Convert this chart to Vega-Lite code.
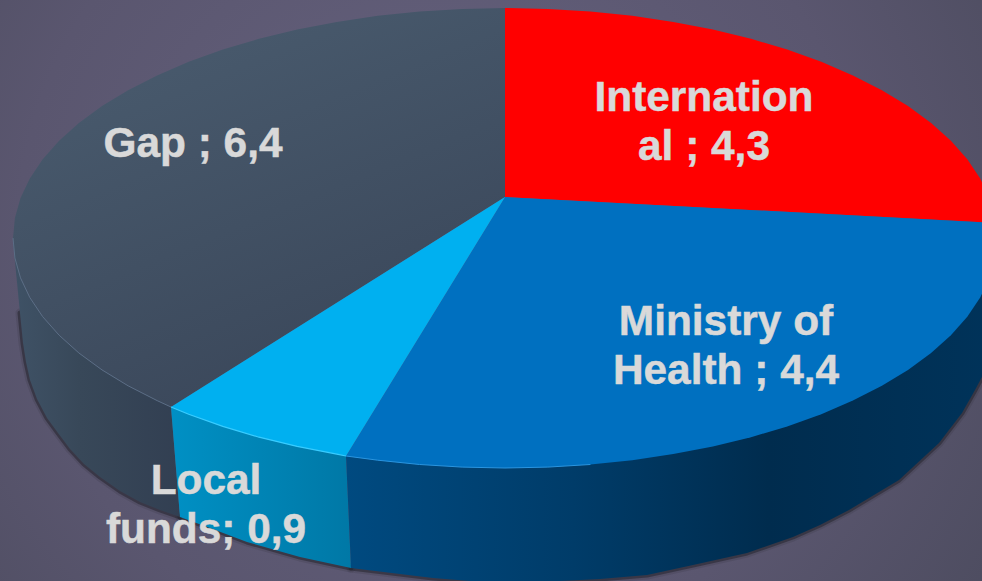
{"$schema":"https://vega.github.io/schema/vega-lite/v6.json","width":982,"height":581,"padding":0,"autosize":"none","config":{"view":{"stroke":null},"axis":{"grid":false}},
"datasets":{
"bg":[{"x0":0,"x1":982,"y0":0,"y1":581}],
"top":[
{"s":"International","i":0,"x":505,"y":197},{"s":"International","i":1,"x":505,"y":8},{"s":"International","i":2,"x":547.9,"y":8.9},{"s":"International","i":3,"x":590.4,"y":11.5},{"s":"International","i":4,"x":632.3,"y":15.8},{"s":"International","i":5,"x":673.3,"y":21.9},{"s":"International","i":6,"x":712.9,"y":29.6},{"s":"International","i":7,"x":751,"y":38.8},{"s":"International","i":8,"x":787.2,"y":49.6},{"s":"International","i":9,"x":821.3,"y":61.8},{"s":"International","i":10,"x":852.9,"y":75.4},{"s":"International","i":11,"x":881.9,"y":90.2},{"s":"International","i":12,"x":908,"y":106.1},{"s":"International","i":13,"x":931.1,"y":123},{"s":"International","i":14,"x":950.9,"y":140.8},{"s":"International","i":15,"x":967.3,"y":159.3},{"s":"International","i":16,"x":980.2,"y":178.5},{"s":"International","i":17,"x":989.5,"y":198.1},{"s":"International","i":18,"x":995.1,"y":218},{"s":"International","i":19,"x":996,"y":223},
{"s":"Ministry of Health","i":0,"x":505,"y":197},{"s":"Ministry of Health","i":1,"x":996,"y":223},{"s":"Ministry of Health","i":2,"x":997,"y":238},{"s":"Ministry of Health","i":3,"x":995.1,"y":258},{"s":"Ministry of Health","i":4,"x":989.5,"y":277.9},{"s":"Ministry of Health","i":5,"x":980.2,"y":297.5},{"s":"Ministry of Health","i":6,"x":967.3,"y":316.7},{"s":"Ministry of Health","i":7,"x":950.9,"y":335.2},{"s":"Ministry of Health","i":8,"x":931.1,"y":353},{"s":"Ministry of Health","i":9,"x":908,"y":369.9},{"s":"Ministry of Health","i":10,"x":881.9,"y":385.8},{"s":"Ministry of Health","i":11,"x":852.9,"y":400.6},{"s":"Ministry of Health","i":12,"x":821.3,"y":414.2},{"s":"Ministry of Health","i":13,"x":787.2,"y":426.4},{"s":"Ministry of Health","i":14,"x":751,"y":437.2},{"s":"Ministry of Health","i":15,"x":712.9,"y":446.4},{"s":"Ministry of Health","i":16,"x":673.3,"y":454.1},{"s":"Ministry of Health","i":17,"x":632.3,"y":460.2},{"s":"Ministry of Health","i":18,"x":590.4,"y":464.5},{"s":"Ministry of Health","i":19,"x":547.9,"y":467.1},{"s":"Ministry of Health","i":20,"x":505,"y":468},{"s":"Ministry of Health","i":21,"x":462.1,"y":467.1},{"s":"Ministry of Health","i":22,"x":419.6,"y":464.5},{"s":"Ministry of Health","i":23,"x":377.7,"y":460.2},{"s":"Ministry of Health","i":24,"x":346,"y":456},
{"s":"Local funds","i":0,"x":505,"y":197},{"s":"Local funds","i":1,"x":346,"y":456},{"s":"Local funds","i":2,"x":336.7,"y":454.1},{"s":"Local funds","i":3,"x":297.1,"y":446.4},{"s":"Local funds","i":4,"x":259,"y":437.2},{"s":"Local funds","i":5,"x":222.8,"y":426.4},{"s":"Local funds","i":6,"x":188.7,"y":414.2},{"s":"Local funds","i":7,"x":171,"y":407},
{"s":"Gap","i":0,"x":505,"y":197},{"s":"Gap","i":1,"x":171,"y":407},{"s":"Gap","i":2,"x":157.1,"y":400.6},{"s":"Gap","i":3,"x":128.1,"y":385.8},{"s":"Gap","i":4,"x":102,"y":369.9},{"s":"Gap","i":5,"x":78.9,"y":353},{"s":"Gap","i":6,"x":59.1,"y":335.2},{"s":"Gap","i":7,"x":42.7,"y":316.7},{"s":"Gap","i":8,"x":29.8,"y":297.5},{"s":"Gap","i":9,"x":20.5,"y":277.9},{"s":"Gap","i":10,"x":14.9,"y":258},{"s":"Gap","i":11,"x":13,"y":238},{"s":"Gap","i":12,"x":14.9,"y":218},{"s":"Gap","i":13,"x":20.5,"y":198.1},{"s":"Gap","i":14,"x":29.8,"y":178.5},{"s":"Gap","i":15,"x":42.7,"y":159.3},{"s":"Gap","i":16,"x":59.1,"y":140.8},{"s":"Gap","i":17,"x":78.9,"y":123},{"s":"Gap","i":18,"x":102,"y":106.1},{"s":"Gap","i":19,"x":128.1,"y":90.2},{"s":"Gap","i":20,"x":157.1,"y":75.4},{"s":"Gap","i":21,"x":188.7,"y":61.8},{"s":"Gap","i":22,"x":222.8,"y":49.6},{"s":"Gap","i":23,"x":259,"y":38.8},{"s":"Gap","i":24,"x":297.1,"y":29.6},{"s":"Gap","i":25,"x":336.7,"y":21.9},{"s":"Gap","i":26,"x":377.7,"y":15.8},{"s":"Gap","i":27,"x":419.6,"y":11.5},{"s":"Gap","i":28,"x":462.1,"y":8.9},{"s":"Gap","i":29,"x":505,"y":8}
],
"wall":[
{"s":"Ministry of Health","i":0,"x":346,"y":456},{"s":"Ministry of Health","i":1,"x":996,"y":240},{"s":"Ministry of Health","i":2,"x":992,"y":310},{"s":"Ministry of Health","i":3,"x":982,"y":377},{"s":"Ministry of Health","i":4,"x":975,"y":390},{"s":"Ministry of Health","i":5,"x":962,"y":413},{"s":"Ministry of Health","i":6,"x":939,"y":443},{"s":"Ministry of Health","i":7,"x":899,"y":480},{"s":"Ministry of Health","i":8,"x":849,"y":510},{"s":"Ministry of Health","i":9,"x":820,"y":525},{"s":"Ministry of Health","i":10,"x":793,"y":537},{"s":"Ministry of Health","i":11,"x":747,"y":553},{"s":"Ministry of Health","i":12,"x":693,"y":565},{"s":"Ministry of Health","i":13,"x":647,"y":575},{"s":"Ministry of Health","i":14,"x":600,"y":579},{"s":"Ministry of Health","i":15,"x":560,"y":581},{"s":"Ministry of Health","i":16,"x":510,"y":582},{"s":"Ministry of Health","i":17,"x":470,"y":581},{"s":"Ministry of Health","i":18,"x":433,"y":578},{"s":"Ministry of Health","i":19,"x":400,"y":574},{"s":"Ministry of Health","i":20,"x":351,"y":568},
{"s":"Local funds","i":0,"x":171,"y":407},{"s":"Local funds","i":1,"x":346,"y":456},{"s":"Local funds","i":2,"x":351,"y":568},{"s":"Local funds","i":3,"x":300,"y":557},{"s":"Local funds","i":4,"x":247,"y":542},{"s":"Local funds","i":5,"x":210,"y":528},{"s":"Local funds","i":6,"x":180,"y":517},
{"s":"Gap","i":0,"x":171,"y":407},{"s":"Gap","i":1,"x":13,"y":240},{"s":"Gap","i":2,"x":15,"y":262},{"s":"Gap","i":3,"x":20,"y":313},{"s":"Gap","i":4,"x":23,"y":343},{"s":"Gap","i":5,"x":26,"y":362},{"s":"Gap","i":6,"x":30,"y":380},{"s":"Gap","i":7,"x":37,"y":399},{"s":"Gap","i":8,"x":47,"y":418},{"s":"Gap","i":9,"x":58,"y":433},{"s":"Gap","i":10,"x":70,"y":449},{"s":"Gap","i":11,"x":84,"y":464},{"s":"Gap","i":12,"x":100,"y":477},{"s":"Gap","i":13,"x":120,"y":491},{"s":"Gap","i":14,"x":140,"y":502},{"s":"Gap","i":15,"x":160,"y":510},{"s":"Gap","i":16,"x":180,"y":517}
],
"labels":[
{"s":"International","value":4.3,"label":"Internation\nal ; 4,3","x":704,"y":111},
{"s":"Ministry of Health","value":4.4,"label":"Ministry of\nHealth ; 4,4","x":726,"y":335},
{"s":"Local funds","value":0.9,"label":"Local\nfunds; 0,9","x":206,"y":494},
{"s":"Gap","value":6.4,"label":"Gap ; 6,4","x":193,"y":157}
]},
"encoding":{"x":{"field":"x","type":"quantitative","scale":{"domain":[0,982],"nice":false,"zero":false},"axis":null},"y":{"field":"y","type":"quantitative","scale":{"domain":[581,0],"nice":false,"zero":false},"axis":null}},
"layer":[
{"data":{"name":"bg"},"mark":{"type":"rect","color":{"gradient":"radial","x1":0.45,"y1":0.45,"r1":0,"x2":0.45,"y2":0.45,"r2":0.72,"stops":[{"offset":0,"color":"#66627f"},{"offset":0.6,"color":"#5a566f"},{"offset":1,"color":"#4a4a5c"}]}},"encoding":{"x":{"field":"x0","type":"quantitative"},"x2":{"field":"x1"},"y":{"field":"y0","type":"quantitative"},"y2":{"field":"y1"}}},
{"data":{"name":"wall"},"transform":[{"filter":"(datum.s==='Gap' && datum.i>=3) || (datum.s==='Local funds' && datum.i>=2) || (datum.s==='Ministry of Health' && datum.i>=3)"}],"mark":{"type":"line","stroke":"#24242e","strokeWidth":9,"opacity":0.14,"clip":true,"strokeJoin":"round","strokeCap":"round"},"encoding":{"detail":{"field":"s"},"order":{"field":"i","type":"quantitative"}}},
{"data":{"name":"wall"},"transform":[{"filter":"(datum.s==='Gap' && datum.i>=3) || (datum.s==='Local funds' && datum.i>=2) || (datum.s==='Ministry of Health' && datum.i>=3)"}],"mark":{"type":"line","stroke":"#24242e","strokeWidth":5,"opacity":0.55,"clip":true,"strokeJoin":"round","strokeCap":"round"},"encoding":{"detail":{"field":"s"},"order":{"field":"i","type":"quantitative"}}},
{"data":{"name":"wall"},"transform":[{"filter":"datum.s==='Gap'"}],"mark":{"type":"line","strokeWidth":0,"clip":true,"fill":{"gradient":"linear","x1":0,"y1":0,"x2":1,"y2":0,"stops":[{"offset":0,"color":"#3f5266"},{"offset":0.4,"color":"#384859"},{"offset":1,"color":"#323f52"}]}},"encoding":{"order":{"field":"i","type":"quantitative"}}},
{"data":{"name":"wall"},"transform":[{"filter":"datum.s==='Local funds'"}],"mark":{"type":"line","strokeWidth":0,"clip":true,"fill":{"gradient":"linear","x1":0,"y1":0,"x2":1,"y2":0,"stops":[{"offset":0,"color":"#0090c4"},{"offset":1,"color":"#0078a6"}]}},"encoding":{"order":{"field":"i","type":"quantitative"}}},
{"data":{"name":"wall"},"transform":[{"filter":"datum.s==='Ministry of Health'"}],"mark":{"type":"line","strokeWidth":0,"clip":true,"fill":{"gradient":"linear","x1":0,"y1":0,"x2":1,"y2":0,"stops":[{"offset":0,"color":"#004a80"},{"offset":0.35,"color":"#003c69"},{"offset":0.65,"color":"#002c4e"},{"offset":1,"color":"#00335a"}]}},"encoding":{"order":{"field":"i","type":"quantitative"}}},
{"data":{"name":"top"},"transform":[{"filter":"datum.s==='Gap'"}],"mark":{"type":"line","strokeWidth":0,"clip":true,"fill":{"gradient":"linear","x1":0.3,"y1":0,"x2":0.8,"y2":1,"stops":[{"offset":0,"color":"#495b6e"},{"offset":1,"color":"#394558"}]}},"encoding":{"order":{"field":"i","type":"quantitative"}}},
{"data":{"name":"top"},"transform":[{"filter":"datum.s==='International'"}],"mark":{"type":"line","strokeWidth":0,"clip":true,"fill":"#ff0000"},"encoding":{"order":{"field":"i","type":"quantitative"}}},
{"data":{"name":"top"},"transform":[{"filter":"datum.s==='Ministry of Health'"}],"mark":{"type":"line","strokeWidth":0,"clip":true,"fill":"#0070c0"},"encoding":{"order":{"field":"i","type":"quantitative"}}},
{"data":{"name":"top"},"transform":[{"filter":"datum.s==='Local funds'"}],"mark":{"type":"line","strokeWidth":0,"clip":true,"fill":"#00b0f0"},"encoding":{"order":{"field":"i","type":"quantitative"}}},
{"data":{"name":"top"},"transform":[{"filter":"datum.s==='Local funds' && datum.i>0"}],"mark":{"type":"line","stroke":"#38ccff","strokeWidth":1.2,"clip":true},"encoding":{"order":{"field":"i","type":"quantitative"}}},
{"data":{"name":"top"},"transform":[{"filter":"datum.s==='Ministry of Health' && datum.i>=18"}],"mark":{"type":"line","stroke":"#2a95e0","strokeWidth":1,"clip":true},"encoding":{"order":{"field":"i","type":"quantitative"}}},
{"data":{"name":"top"},"transform":[{"filter":"datum.s==='Gap' && datum.i>=1 && datum.i<=11"}],"mark":{"type":"line","stroke":"#5c6e86","strokeWidth":1,"clip":true},"encoding":{"order":{"field":"i","type":"quantitative"}}},
{"data":{"name":"labels"},"mark":{"type":"text","font":"Liberation Sans","fontWeight":"bold","fontSize":42.4,"color":"#d9d9d9","stroke":"#d9d9d9","strokeWidth":0.5,"align":"center","baseline":"alphabetic","lineBreak":"\n","lineHeight":48.5},"encoding":{"text":{"field":"label"}}}
]}
